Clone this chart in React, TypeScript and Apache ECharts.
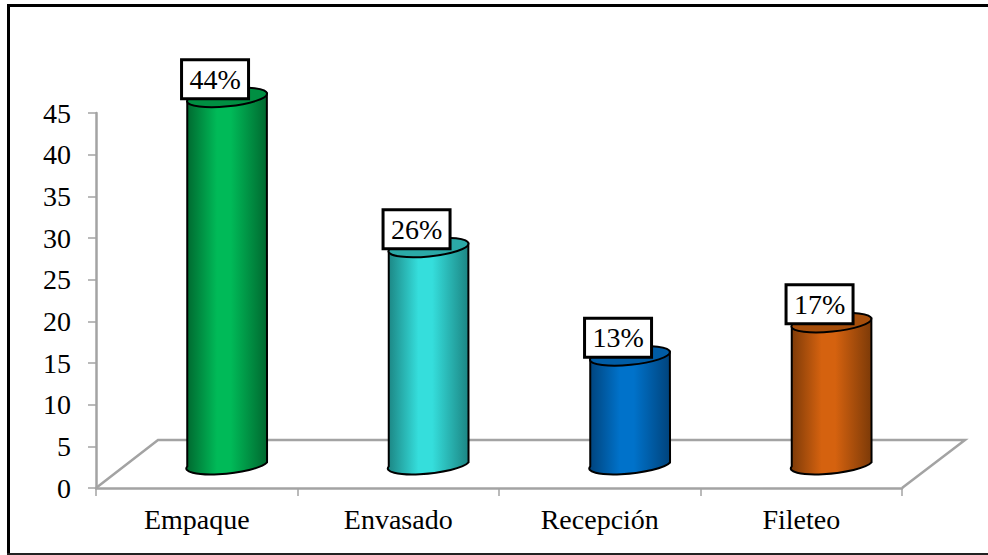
import React, { useEffect, useRef } from "react";
import * as echarts from "echarts";

const categories = ["Empaque", "Envasado", "Recepción", "Fileteo"];
const values = [44, 26, 13, 17];
const boxLabels = ["44%", "26%", "13%", "17%"];
const midColors = ["#00BA58", "#35DEDC", "#0072CA", "#D5620F"];
const edgeColors = ["#00682F", "#1C8583", "#00437C", "#7C3A08"];
const topColors = ["#008F42", "#2BA9A7", "#005CA5", "#A64E0B"];
const yTicks = { min: 0, max: 45, interval: 5 };

const FONT = '"Liberation Serif", "Times New Roman", serif';
const DX = 30.3;
const DY = -24;
const RX = 40.2;
const RY = 9;
const TILT = -5.7;
const EH = 4;
const HALF_W = 40;
const HALF_H = 7.3;

function renderCylinder(params: any, api: any) {
  const i = params.dataIndex;
  const top = api.coord([api.value(0), api.value(1)]);
  const base = api.coord([api.value(0), 0]);
  const cx = top[0] + DX;
  const ty = top[1] + DY;
  const by = base[1] + DY;
  const l = cx - HALF_W;
  const r = cx + HALF_W;
  const body =
    `M${l} ${ty + EH}L${l} ${by + EH}` +
    `A${RX} ${RY} ${TILT} 0 0 ${r} ${by - EH}` +
    `L${r} ${ty - EH}Z`;
  const boxW = 67;
  const boxH = 39;
  const boxCx = cx - 12;
  const boxCy = ty - 18;
  return {
    type: "group",
    children: [
      {
        type: "path",
        shape: {
          pathData: body,
          x: l,
          y: ty - EH,
          width: HALF_W * 2,
          height: by - ty + EH + HALF_H,
          layout: "cover",
        },
        style: {
          fill: new echarts.graphic.LinearGradient(0, 0, 1, 0, [
            { offset: 0, color: edgeColors[i] },
            { offset: 0.38, color: midColors[i] },
            { offset: 0.55, color: midColors[i] },
            { offset: 1, color: edgeColors[i] },
          ]),
          stroke: "#000",
          lineWidth: 2,
        },
      },
      {
        type: "ellipse",
        shape: { cx, cy: ty, rx: RX, ry: RY },
        originX: cx,
        originY: ty,
        rotation: (-TILT * Math.PI) / 180,
        style: { fill: topColors[i], stroke: "#000", lineWidth: 2 },
      },
      {
        type: "rect",
        shape: { x: boxCx - boxW / 2, y: boxCy - boxH / 2, width: boxW, height: boxH },
        style: { fill: "#fff", stroke: "#000", lineWidth: 3 },
      },
      {
        type: "text",
        x: boxCx,
        y: boxCy,
        style: { text: boxLabels[i], font: `28px ${FONT}`, fill: "#000", align: "center", verticalAlign: "middle" },
      },
    ],
  };
}

export default function App() {
  const ref = useRef<HTMLDivElement>(null);
  useEffect(() => {
    document.body.style.margin = "0";
    const chart = echarts.init(ref.current!, undefined, { renderer: "svg" });
    const floorColor = "#A3A3A3";
    chart.setOption({
      animation: false,
      backgroundColor: "#fff",
      graphic: [
        { type: "line", shape: { x1: 8.5, y1: 4, x2: 8.5, y2: 555 }, style: { stroke: "#000", lineWidth: 3 }, z: 0 },
        { type: "line", shape: { x1: 7, y1: 5.5, x2: 988, y2: 5.5 }, style: { stroke: "#000", lineWidth: 3 }, z: 0 },
        { type: "line", shape: { x1: 7, y1: 554, x2: 988, y2: 554 }, style: { stroke: "#222", lineWidth: 2 }, z: 0 },
        {
          type: "polyline",
          shape: { points: [[96, 488], [158, 440], [965, 440], [902, 488]] },
          style: { fill: "none", stroke: floorColor, lineWidth: 2.5 },
          z: 0,
        },
      ],
      grid: { left: 96, right: 86, top: 113, bottom: 67 },
      xAxis: {
        type: "category",
        data: categories,
        axisLine: { lineStyle: { color: floorColor, width: 2.5 } },
        axisTick: { show: true, length: 8, lineStyle: { color: floorColor, width: 1.5 } },
        axisLabel: { color: "#000", fontFamily: FONT, fontSize: 28, margin: 17 },
      },
      yAxis: {
        type: "value",
        ...yTicks,
        splitLine: { show: false },
        axisLine: { show: true, lineStyle: { color: floorColor, width: 2.5 } },
        axisTick: { show: true, length: 8, lineStyle: { color: floorColor, width: 1.5 } },
        axisLabel: { color: "#000", fontFamily: FONT, fontSize: 28, margin: 25 },
      },
      series: [
        {
          type: "custom",
          coordinateSystem: "cartesian2d",
          renderItem: renderCylinder,
          encode: { x: 0, y: 1 },
          clip: false,
          data: categories.map((_, i) => [i, values[i]]),
        },
      ],
    });
    return () => chart.dispose();
  }, []);
  return <div ref={ref} style={{ width: 988, height: 555, position: "absolute", left: 0, top: 0 }} />;
}
